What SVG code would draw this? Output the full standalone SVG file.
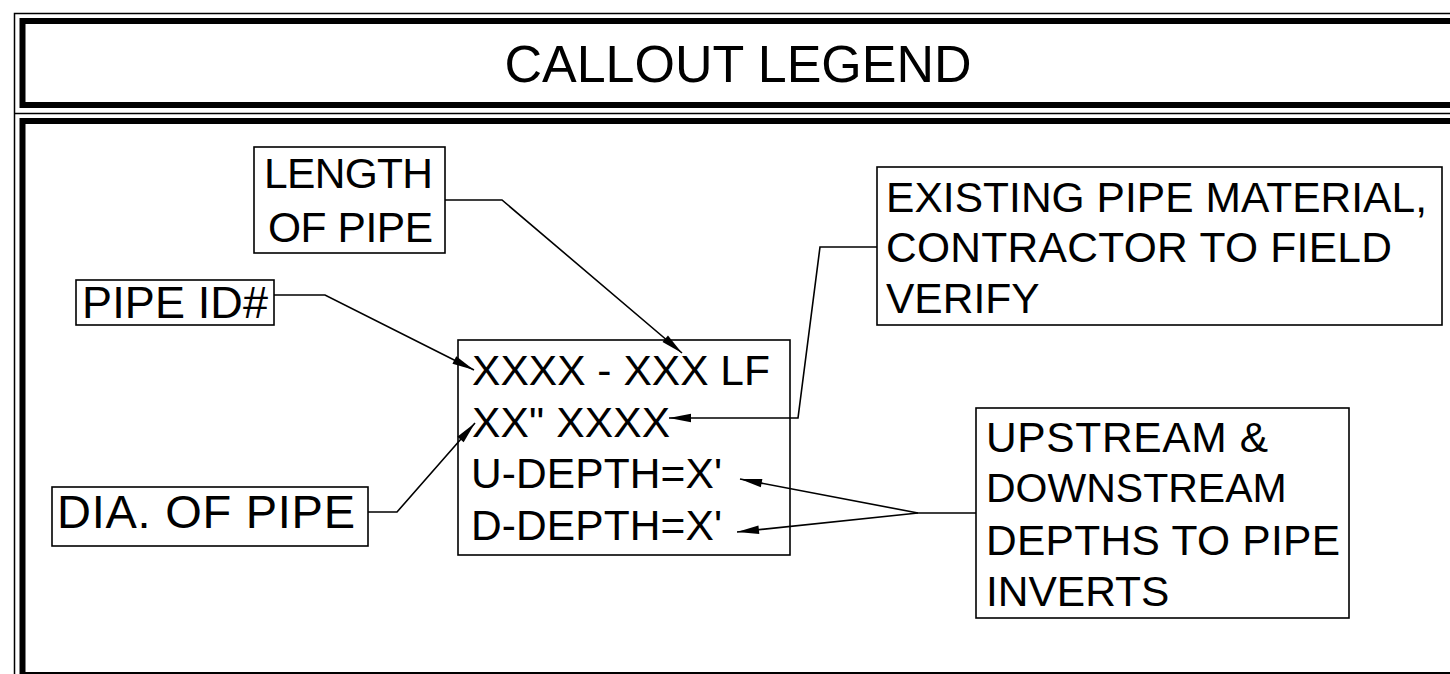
<svg xmlns="http://www.w3.org/2000/svg" width="1450" height="674" viewBox="0 0 1450 674">
<style>
.t{font-family:"Liberation Sans",Arial,sans-serif;font-size:42.5px;fill:#000}
.title{font-family:"Liberation Sans",Arial,sans-serif;font-size:52px;fill:#000}
.box{fill:#fff;stroke:#000;stroke-width:1.6}
.ld{fill:none;stroke:#000;stroke-width:1.6}
.thin{fill:none;stroke:#000;stroke-width:1.5}
.thick{fill:none;stroke:#000;stroke-width:6}
</style>
<defs>
<marker id="ah" viewBox="-23 -5 24 10" refX="0" refY="0" markerWidth="24" markerHeight="10" markerUnits="userSpaceOnUse" orient="auto" overflow="visible">
<path d="M0,0 L-22,-4.2 L-22,4.2 Z" fill="#000"/>
</marker>
</defs>
<rect width="1450" height="674" fill="#fff"/>
<g id="frame">
<path class="thin" d="M14.5,680 V13.5 H1460 M14.5,113.5 H1460"/>
<rect class="thick" x="22.5" y="21" width="1440" height="84"/>
<rect class="thick" x="22.5" y="121" width="1440" height="554"/>
</g>
<g id="title"><text class="title" x="738" y="82" text-anchor="middle">CALLOUT LEGEND</text></g>
<g id="length">
<rect class="box" x="254" y="147" width="191" height="106"/>
<text class="t" x="264" y="188" textLength="169" lengthAdjust="spacing">LENGTH</text>
<text class="t" x="268" y="242" textLength="165" lengthAdjust="spacing">OF PIPE</text>
</g>
<g id="pipeid">
<rect class="box" x="76" y="280" width="198" height="45"/>
<text class="t" x="82" y="318" style="font-size:45px" textLength="186" lengthAdjust="spacing">PIPE ID#</text>
</g>
<g id="dia">
<rect class="box" x="52" y="487" width="316" height="59"/>
<text class="t" x="57" y="528" style="font-size:47px" textLength="298" lengthAdjust="spacing">DIA. OF PIPE</text>
</g>
<g id="main">
<rect class="box" x="458" y="340" width="332" height="215"/>
<text class="t" x="472" y="385" textLength="298" lengthAdjust="spacing">XXXX - XXX LF</text>
<text class="t" x="472" y="437" textLength="198" lengthAdjust="spacing">XX" XXXX</text>
<text class="t" x="471" y="488" textLength="251" lengthAdjust="spacing">U-DEPTH=X'</text>
<text class="t" x="471" y="540" textLength="251" lengthAdjust="spacing">D-DEPTH=X'</text>
</g>
<g id="existing">
<rect class="box" x="877" y="167" width="565" height="158"/>
<text class="t" x="886" y="212" textLength="541" lengthAdjust="spacing">EXISTING PIPE MATERIAL,</text>
<text class="t" x="886" y="262" textLength="506" lengthAdjust="spacing">CONTRACTOR TO FIELD</text>
<text class="t" x="886" y="313">VERIFY</text>
</g>
<g id="updown">
<rect class="box" x="976" y="408" width="373" height="210"/>
<text class="t" x="986" y="452" textLength="282" lengthAdjust="spacing">UPSTREAM &amp;</text>
<text class="t" x="986" y="502" style="font-size:41px">DOWNSTREAM</text>
<text class="t" x="986" y="555" textLength="354" lengthAdjust="spacing">DEPTHS TO PIPE</text>
<text class="t" x="986" y="606">INVERTS</text>
</g>
<g id="connectors">
<path class="ld" d="M445,200 H502 L682,353" marker-end="url(#ah)"/>
<path class="ld" d="M274,295 H325 L474,370" marker-end="url(#ah)"/>
<path class="ld" d="M368,512 H397 L475,423" marker-end="url(#ah)"/>
<path class="ld" d="M877,247 H820 L798,418 H669" marker-end="url(#ah)"/>
<path class="ld" d="M976,513 H918 L740,479" marker-end="url(#ah)"/>
<path class="ld" d="M918,513 L737,532" marker-end="url(#ah)"/>
</g>
</svg>
